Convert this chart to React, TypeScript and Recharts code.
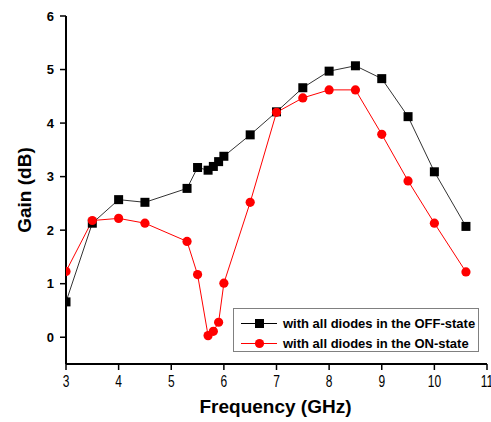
import React from 'react';
import { LineChart, Line, XAxis, YAxis, Legend } from 'recharts';

const freqs = [3, 3.5, 4, 4.5, 5.3, 5.5, 5.7, 5.8, 5.9, 6, 6.5, 7, 7.5, 8, 8.5, 9, 9.5, 10, 10.6];
const offState = [0.66, 2.13, 2.57, 2.52, 2.78, 3.17, 3.12, 3.19, 3.28, 3.38, 3.78, 4.21, 4.66, 4.97, 5.07, 4.83, 4.12, 3.09, 2.07];
const onState = [1.23, 2.18, 2.22, 2.13, 1.79, 1.17, 0.03, 0.11, 0.28, 1.01, 2.52, 4.2, 4.47, 4.62, 4.62, 3.79, 2.92, 2.13, 1.22];
const xTicks = [3, 4, 5, 6, 7, 8, 9, 10, 11];
const yTicks = [0, 1, 2, 3, 4, 5, 6];
const seriesNames = ['with all diodes in the OFF-state', 'with all diodes in the ON-state'];

const data = freqs.map((f, i) => ({ f, off: offState[i], on: onState[i] }));

const FONT = '"Liberation Sans", Arial, sans-serif';

const SquareDot = (props: any) => {
  const { cx, cy, index } = props;
  if (cx == null || cy == null) return <g key={`s${index}`} />;
  return <rect key={`s${index}`} x={cx - 4.5} y={cy - 4.5} width={9} height={9} fill="#000" />;
};

const CircleDot = (props: any) => {
  const { cx, cy, index } = props;
  if (cx == null || cy == null) return <g key={`c${index}`} />;
  return <circle key={`c${index}`} cx={cx} cy={cy} r={4.6} fill="#ff0000" />;
};

const XTick = (props: any) => {
  const { x, y, payload } = props;
  return (
    <text
      transform={`translate(${x}, ${y + 13}) scale(1, 1.35)`}
      textAnchor="middle"
      fontFamily={FONT}
      fontSize={12}
      fill="#000"
    >
      {payload.value}
    </text>
  );
};

const LegendBox = () => (
  <div
    style={{
      position: 'relative',
      width: 246,
      height: 44,
      border: '1px solid #808080',
      boxSizing: 'border-box',
      background: '#fff',
      fontFamily: FONT,
      fontWeight: 'bold',
      fontSize: 13,
      color: '#000',
    }}
  >
    {seriesNames.map((name, i) => (
      <div key={name} style={{ position: 'absolute', left: 0, top: 6 + i * 20, height: 17, width: 244 }}>
        <svg width={40} height={17} style={{ position: 'absolute', left: 7, top: 0 }}>
          <line x1={0} y1={8.5} x2={36} y2={8.5} stroke={i === 0 ? '#000' : '#ff0000'} strokeWidth={1} />
          {i === 0 ? (
            <rect x={14} y={4} width={9} height={9} fill="#000" />
          ) : (
            <circle cx={18.5} cy={8.5} r={4.6} fill="#ff0000" />
          )}
        </svg>
        <span style={{ position: 'absolute', left: 49, top: 0, lineHeight: '17px', whiteSpace: 'nowrap' }}>{name}</span>
      </div>
    ))}
  </div>
);

export default function App() {
  return (
    <div style={{ position: 'absolute', left: 0, top: 0, background: '#fff' }}>
      <LineChart width={491} height={422} data={data} margin={{ top: 16, right: 4, left: 0, bottom: 0 }}>
        <XAxis
          dataKey="f"
          type="number"
          domain={[3, 11]}
          ticks={xTicks}
          allowDataOverflow
          height={58}
          axisLine={{ stroke: '#000', strokeWidth: 2 }}
          tickLine={{ stroke: '#000', strokeWidth: 1.5 }}
          tickSize={6}
          tickMargin={4}
          tick={<XTick />}
          interval={0}
          label={{
            content: (p: any) => {
              const vb = p.viewBox || { x: 66, y: 364, width: 421, height: 58 };
              return (
                <text
                  x={vb.x + vb.width / 2 - 1}
                  y={vb.y + 49}
                  textAnchor="middle"
                  fontFamily={FONT}
                  fontWeight="bold"
                  fontSize={19}
                  fill="#000"
                >
                  Frequency (GHz)
                </text>
              );
            },
          }}
        />
        <YAxis
          type="number"
          domain={[-0.5, 6]}
          ticks={yTicks}
          allowDataOverflow
          width={66}
          axisLine={{ stroke: '#000', strokeWidth: 2 }}
          tickLine={{ stroke: '#000', strokeWidth: 1.5 }}
          tickSize={6}
          tickMargin={6}
          tick={{ fill: '#000', fontSize: 13, fontWeight: 'bold', fontFamily: FONT }}
          interval={0}
          label={{
            content: (p: any) => {
              const vb = p.viewBox || { x: 0, y: 16, width: 66, height: 348 };
              const cx = vb.x + 31;
              const cy = vb.y + vb.height / 2;
              return (
                <text
                  x={cx}
                  y={cy}
                  transform={`rotate(-90, ${cx}, ${cy})`}
                  textAnchor="middle"
                  fontFamily={FONT}
                  fontWeight="bold"
                  fontSize={19}
                  fill="#000"
                >
                  Gain (dB)
                </text>
              );
            },
          }}
        />
        <Legend
          layout="vertical"
          align="center"
          verticalAlign="middle"
          content={() => <LegendBox />}
          wrapperStyle={{ position: 'absolute', left: 233, top: 308, width: 246, height: 44 }}
        />
        <Line
          type="linear"
          dataKey="off"
          name={seriesNames[0]}
          stroke="#333"
          strokeWidth={1}
          dot={SquareDot}
          activeDot={false}
          isAnimationActive={false}
        />
        <Line
          type="linear"
          dataKey="on"
          name={seriesNames[1]}
          stroke="#ff0000"
          strokeWidth={1}
          dot={CircleDot}
          activeDot={false}
          isAnimationActive={false}
        />
      </LineChart>
    </div>
  );
}
